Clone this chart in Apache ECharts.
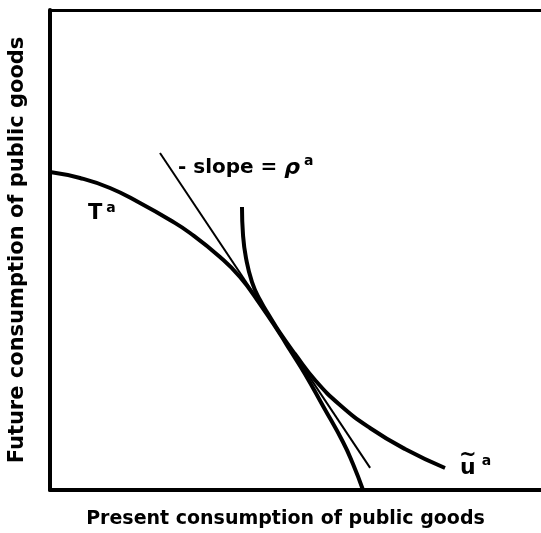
<!DOCTYPE html>
<html>
<head>
<meta charset="utf-8">
<script src="https://cdn.jsdelivr.net/npm/echarts@6/dist/echarts.min.js"></script>
<style>
html,body{margin:0;padding:0;background:#fff;}
#c{width:541px;height:533px;}
</style>
</head>
<body>
<div id="c"></div>
<script>
// Transformation curve T^a (present, future)
var tX = [0, 6.11, 12.22, 18.33, 24.44, 28.51, 34.62, 38.70, 42.77, 46.84, 48.88, 51.93, 55.60, 59.67, 61.71, 63.75];
var tY = [66.25, 65.0, 62.92, 59.79, 56.25, 53.54, 48.54, 44.38, 38.75, 32.5, 29.17, 24.17, 17.5, 10.0, 5.4, 0];
// Indifference curve u~^a
var uX = [39.10, 39.31, 39.92, 41.14, 42.77, 44.81, 46.84, 49.90, 53.97, 59.06, 65.17, 72.30, 80.45];
var uY = [58.96, 53.13, 48.33, 43.33, 39.58, 36.04, 32.71, 28.33, 22.92, 17.71, 12.92, 8.54, 4.58];
// Tangent line (- slope = rho^a)
var lX = [22.4, 65.2];
var lY = [70.2, 4.6];

var xTitle = 'Present consumption of public goods';
var yTitle = 'Future consumption of public goods';

function pairs(xs, ys){ return xs.map(function(x,i){return [x, ys[i]];}); }

var chart = echarts.init(document.getElementById('c'));
var FONT = 'DejaVu Sans';
chart.setOption({
  animation:false,
  backgroundColor:'#fff',
  grid:{left:50, top:10, width:491, height:480, outerBoundsMode:'none', containLabel:false},
  xAxis:[{
    type:'value', min:0, max:100, position:'bottom',
    axisLine:{show:true, lineStyle:{color:'#000', width:4}},
    axisTick:{show:false}, axisLabel:{show:false}, splitLine:{show:false},
    name:xTitle, nameLocation:'middle', nameGap:20,
    nameTextStyle:{color:'#000', fontFamily:FONT, fontWeight:'bold', fontSize:19, padding:[0,20,0,0]}
  },{
    type:'value', min:0, max:100, position:'top',
    axisLine:{show:true, lineStyle:{color:'#000', width:3}},
    axisTick:{show:false}, axisLabel:{show:false}, splitLine:{show:false}
  }],
  yAxis:{
    type:'value', min:0, max:100,
    axisLine:{show:true, lineStyle:{color:'#000', width:4}},
    axisTick:{show:false}, axisLabel:{show:false}, splitLine:{show:false},
    name:yTitle, nameLocation:'middle', nameGap:22,
    nameTextStyle:{color:'#000', fontFamily:FONT, fontWeight:'bold', fontSize:21}
  },
  series:[
    {type:'line', data:pairs(tX,tY), smooth:0.5, symbol:'none',
     lineStyle:{color:'#000', width:4}},
    {type:'line', data:pairs(uX,uY), smooth:0.5, symbol:'none',
     lineStyle:{color:'#000', width:4}},
    {type:'line', data:pairs(lX,lY), symbol:'none',
     lineStyle:{color:'#000', width:2}}
  ],
  graphic:[
    {type:'text', left:88, top:201, style:{
      text:'{m|T}{s|a}', rich:{
        m:{fontFamily:FONT, fontWeight:'bold', fontSize:21, fill:'#000'},
        s:{fontFamily:FONT, fontWeight:'bold', fontSize:14, fill:'#000', padding:[0,0,12,4]}
      }}},
    {type:'text', left:178, top:154, style:{
      text:'{m|- slope = }{r|ρ}{s|a}', rich:{
        m:{fontFamily:FONT, fontWeight:'bold', fontSize:20, fill:'#000'},
        r:{fontFamily:FONT, fontWeight:'bold', fontStyle:'italic', fontSize:22, fill:'#000'},
        s:{fontFamily:FONT, fontWeight:'bold', fontSize:14, fill:'#000', padding:[0,0,14,4]}
      }}},
    {type:'text', left:460, top:454, style:{
      text:'{m|u}{s|a}', rich:{
        m:{fontFamily:FONT, fontWeight:'bold', fontSize:22, fill:'#000'},
        s:{fontFamily:FONT, fontWeight:'bold', fontSize:14, fill:'#000', padding:[0,0,14,6]}
      }}},
    {type:'text', left:459, top:445, style:{
      text:'~', fontFamily:FONT, fontWeight:'bold', fontSize:21, fill:'#000'}}
  ]
});
</script>
</body>
</html>
